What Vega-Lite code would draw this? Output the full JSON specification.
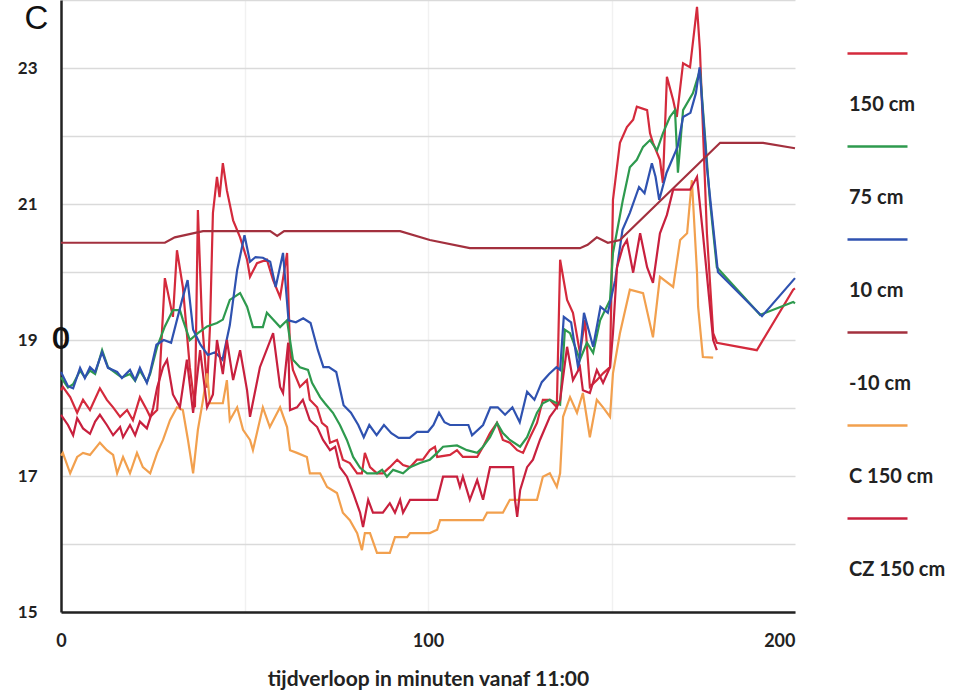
{
"$schema": "https://vega.github.io/schema/vega-lite/v6.json",
"width": 734, "height": 612,
"autosize": {"type": "none"},
"padding": {"left": 61, "top": 0, "right": 173, "bottom": 80},
"background": "white",
"config": {"view": {"stroke": null}},
"datasets": {
"lines": [
{"s":"150 cm","t":0,"T":18.26},{"s":"150 cm","t":0.5,"T":18.31},{"s":"150 cm","t":2.5,"T":18.16},{"s":"150 cm","t":4.4,"T":17.93},{"s":"150 cm","t":6.0,"T":18.12},{"s":"150 cm","t":7.9,"T":17.97},{"s":"150 cm","t":10.6,"T":18.29},{"s":"150 cm","t":12.5,"T":18.12},{"s":"150 cm","t":14.2,"T":18.01},{"s":"150 cm","t":16.1,"T":17.87},{"s":"150 cm","t":18.0,"T":17.97},{"s":"150 cm","t":19.6,"T":17.82},{"s":"150 cm","t":21.5,"T":18.16},{"s":"150 cm","t":23.4,"T":17.97},{"s":"150 cm","t":24.3,"T":17.87},{"s":"150 cm","t":26.2,"T":17.97},{"s":"150 cm","t":27.0,"T":18.6},{"s":"150 cm","t":28.3,"T":19.91},{"s":"150 cm","t":30.5,"T":19.34},{"s":"150 cm","t":31.6,"T":20.32},{"s":"150 cm","t":33.2,"T":19.78},{"s":"150 cm","t":35.1,"T":18.6},{"s":"150 cm","t":36.5,"T":18.01},{"s":"150 cm","t":37.3,"T":20.91},{"s":"150 cm","t":38.4,"T":19.3},{"s":"150 cm","t":39.8,"T":18.3},{"s":"150 cm","t":40.6,"T":19.2},{"s":"150 cm","t":41.4,"T":20.87},{"s":"150 cm","t":42.5,"T":21.4},{"s":"150 cm","t":43.2,"T":21.1},{"s":"150 cm","t":44.1,"T":21.6},{"s":"150 cm","t":45.2,"T":21.2},{"s":"150 cm","t":46.9,"T":20.76},{"s":"150 cm","t":48.8,"T":20.51},{"s":"150 cm","t":50.7,"T":20.18},{"s":"150 cm","t":51.5,"T":19.93},{"s":"150 cm","t":53.4,"T":20.13},{"s":"150 cm","t":56.1,"T":20.18},{"s":"150 cm","t":57.8,"T":19.88},{"s":"150 cm","t":59.7,"T":19.63},{"s":"150 cm","t":61.6,"T":20.28},{"s":"150 cm","t":62.4,"T":18.85},{"s":"150 cm","t":63.2,"T":18.56},{"s":"150 cm","t":65.1,"T":18.31},{"s":"150 cm","t":67.0,"T":18.41},{"s":"150 cm","t":67.8,"T":18.12},{"s":"150 cm","t":69.8,"T":18.01},{"s":"150 cm","t":71.1,"T":17.78},{"s":"150 cm","t":72.5,"T":17.72},{"s":"150 cm","t":73.3,"T":17.49},{"s":"150 cm","t":75.2,"T":17.53},{"s":"150 cm","t":76.8,"T":17.24},{"s":"150 cm","t":78.7,"T":17.19},{"s":"150 cm","t":80.7,"T":17.04},{"s":"150 cm","t":82.0,"T":17.04},{"s":"150 cm","t":82.8,"T":17.34},{"s":"150 cm","t":84.2,"T":17.13},{"s":"150 cm","t":86.1,"T":17.04},{"s":"150 cm","t":87.7,"T":17.04},{"s":"150 cm","t":89.6,"T":17.13},{"s":"150 cm","t":91.6,"T":17.24},{"s":"150 cm","t":93.2,"T":17.16},{"s":"150 cm","t":95.1,"T":17.13},{"s":"150 cm","t":97.0,"T":17.24},{"s":"150 cm","t":98.6,"T":17.24},{"s":"150 cm","t":100.5,"T":17.38},{"s":"150 cm","t":101.9,"T":17.43},{"s":"150 cm","t":102.5,"T":17.28},{"s":"150 cm","t":106.0,"T":17.31},{"s":"150 cm","t":107.9,"T":17.38},{"s":"150 cm","t":109.5,"T":17.28},{"s":"150 cm","t":113.4,"T":17.28},{"s":"150 cm","t":115.0,"T":17.43},{"s":"150 cm","t":116.9,"T":17.63},{"s":"150 cm","t":118.8,"T":17.78},{"s":"150 cm","t":120.4,"T":17.53},{"s":"150 cm","t":122.3,"T":17.49},{"s":"150 cm","t":124.3,"T":17.38},{"s":"150 cm","t":125.9,"T":17.34},{"s":"150 cm","t":127.8,"T":17.57},{"s":"150 cm","t":129.7,"T":17.78},{"s":"150 cm","t":131.3,"T":18.12},{"s":"150 cm","t":133.2,"T":18.12},{"s":"150 cm","t":135.1,"T":18.01},{"s":"150 cm","t":136.0,"T":20.18},{"s":"150 cm","t":137.9,"T":19.59},{"s":"150 cm","t":139.5,"T":19.40},{"s":"150 cm","t":141.4,"T":18.81},{"s":"150 cm","t":142.8,"T":19.29},{"s":"150 cm","t":144.1,"T":18.31},{"s":"150 cm","t":146.0,"T":18.41},{"s":"150 cm","t":147.7,"T":18.51},{"s":"150 cm","t":149.6,"T":18.60},{"s":"150 cm","t":150.4,"T":21.06},{"s":"150 cm","t":152.3,"T":21.90},{"s":"150 cm","t":154.2,"T":22.13},{"s":"150 cm","t":155.9,"T":22.24},{"s":"150 cm","t":156.9,"T":22.43},{"s":"150 cm","t":159.7,"T":22.38},{"s":"150 cm","t":160.5,"T":22.04},{"s":"150 cm","t":161.3,"T":21.90},{"s":"150 cm","t":163.2,"T":21.65},{"s":"150 cm","t":164.0,"T":21.31},{"s":"150 cm","t":165.1,"T":22.87},{"s":"150 cm","t":166.8,"T":22.53},{"s":"150 cm","t":167.8,"T":22.28},{"s":"150 cm","t":169.5,"T":23.07},{"s":"150 cm","t":171.4,"T":23.01},{"s":"150 cm","t":173.3,"T":23.90},{"s":"150 cm","t":174.1,"T":23.26},{"s":"150 cm","t":176.0,"T":20.57},{"s":"150 cm","t":177.7,"T":19.10},{"s":"150 cm","t":178.7,"T":18.96},{"s":"150 cm","t":189.6,"T":18.85},{"s":"150 cm","t":199.5,"T":19.74},{"s":"150 cm","t":200,"T":19.76},

{"s":"75 cm","t":0,"T":18.45},{"s":"75 cm","t":1.9,"T":18.3},{"s":"75 cm","t":3.3,"T":18.35},{"s":"75 cm","t":5.2,"T":18.55},{"s":"75 cm","t":6.5,"T":18.45},{"s":"75 cm","t":7.9,"T":18.55},{"s":"75 cm","t":9.3,"T":18.5},{"s":"75 cm","t":11.2,"T":18.85},{"s":"75 cm","t":12.8,"T":18.6},{"s":"75 cm","t":15.3,"T":18.5},{"s":"75 cm","t":16.6,"T":18.45},{"s":"75 cm","t":18.8,"T":18.5},{"s":"75 cm","t":20.2,"T":18.4},{"s":"75 cm","t":21.5,"T":18.55},{"s":"75 cm","t":23.4,"T":18.38},{"s":"75 cm","t":24.3,"T":18.5},{"s":"75 cm","t":26.2,"T":18.9},{"s":"75 cm","t":28.3,"T":19.2},{"s":"75 cm","t":30.5,"T":19.44},{"s":"75 cm","t":32.4,"T":19.44},{"s":"75 cm","t":33.2,"T":19.3},{"s":"75 cm","t":35.1,"T":19.0},{"s":"75 cm","t":37.3,"T":19.1},{"s":"75 cm","t":39.8,"T":19.2},{"s":"75 cm","t":42.5,"T":19.25},{"s":"75 cm","t":44.1,"T":19.3},{"s":"75 cm","t":46.0,"T":19.59},{"s":"75 cm","t":48.8,"T":19.69},{"s":"75 cm","t":50.7,"T":19.49},{"s":"75 cm","t":52.3,"T":19.19},{"s":"75 cm","t":55.0,"T":19.19},{"s":"75 cm","t":56.1,"T":19.40},{"s":"75 cm","t":57.8,"T":19.3},{"s":"75 cm","t":59.7,"T":19.19},{"s":"75 cm","t":61.6,"T":19.29},{"s":"75 cm","t":63.2,"T":18.71},{"s":"75 cm","t":65.1,"T":18.6},{"s":"75 cm","t":67.3,"T":18.56},{"s":"75 cm","t":68.4,"T":18.37},{"s":"75 cm","t":70.6,"T":18.16},{"s":"75 cm","t":71.9,"T":18.07},{"s":"75 cm","t":74.1,"T":17.93},{"s":"75 cm","t":76.0,"T":17.75},{"s":"75 cm","t":77.9,"T":17.53},{"s":"75 cm","t":79.6,"T":17.28},{"s":"75 cm","t":81.5,"T":17.12},{"s":"75 cm","t":83.4,"T":17.04},{"s":"75 cm","t":86.1,"T":17.04},{"s":"75 cm","t":87.5,"T":17.09},{"s":"75 cm","t":88.8,"T":16.99},{"s":"75 cm","t":90.5,"T":17.09},{"s":"75 cm","t":93.2,"T":17.04},{"s":"75 cm","t":95.1,"T":17.13},{"s":"75 cm","t":97.8,"T":17.19},{"s":"75 cm","t":100.5,"T":17.24},{"s":"75 cm","t":102.5,"T":17.34},{"s":"75 cm","t":104.1,"T":17.43},{"s":"75 cm","t":107.9,"T":17.45},{"s":"75 cm","t":110.6,"T":17.38},{"s":"75 cm","t":113.4,"T":17.34},{"s":"75 cm","t":115.0,"T":17.43},{"s":"75 cm","t":116.9,"T":17.57},{"s":"75 cm","t":118.8,"T":17.78},{"s":"75 cm","t":120.4,"T":17.63},{"s":"75 cm","t":122.3,"T":17.53},{"s":"75 cm","t":125.1,"T":17.43},{"s":"75 cm","t":127.0,"T":17.57},{"s":"75 cm","t":129.7,"T":17.93},{"s":"75 cm","t":131.3,"T":18.07},{"s":"75 cm","t":133.2,"T":18.12},{"s":"75 cm","t":135.1,"T":18.07},{"s":"75 cm","t":136.0,"T":18.05},{"s":"75 cm","t":137.3,"T":19.15},{"s":"75 cm","t":138.7,"T":19.10},{"s":"75 cm","t":141.4,"T":18.71},{"s":"75 cm","t":143.3,"T":18.96},{"s":"75 cm","t":145.0,"T":18.81},{"s":"75 cm","t":146.9,"T":19.29},{"s":"75 cm","t":149.6,"T":19.59},{"s":"75 cm","t":150.4,"T":20.28},{"s":"75 cm","t":153.1,"T":21.06},{"s":"75 cm","t":155.0,"T":21.54},{"s":"75 cm","t":156.9,"T":21.65},{"s":"75 cm","t":158.6,"T":21.84},{"s":"75 cm","t":160.5,"T":21.94},{"s":"75 cm","t":162.4,"T":21.79},{"s":"75 cm","t":164.0,"T":22.04},{"s":"75 cm","t":165.9,"T":22.28},{"s":"75 cm","t":167.3,"T":22.38},{"s":"75 cm","t":168.1,"T":21.46},{"s":"75 cm","t":169.5,"T":22.38},{"s":"75 cm","t":172.2,"T":22.63},{"s":"75 cm","t":174.1,"T":22.97},{"s":"75 cm","t":176.8,"T":21.06},{"s":"75 cm","t":178.7,"T":20.07},{"s":"75 cm","t":190.5,"T":19.37},{"s":"75 cm","t":199.5,"T":19.56},{"s":"75 cm","t":200,"T":19.54},

{"s":"10 cm","t":0,"T":18.53},{"s":"10 cm","t":1.9,"T":18.32},{"s":"10 cm","t":3.3,"T":18.29},{"s":"10 cm","t":5.2,"T":18.59},{"s":"10 cm","t":6.5,"T":18.44},{"s":"10 cm","t":7.9,"T":18.60},{"s":"10 cm","t":9.3,"T":18.53},{"s":"10 cm","t":11.2,"T":18.82},{"s":"10 cm","t":12.8,"T":18.59},{"s":"10 cm","t":15.3,"T":18.53},{"s":"10 cm","t":16.6,"T":18.44},{"s":"10 cm","t":18.8,"T":18.56},{"s":"10 cm","t":20.2,"T":18.41},{"s":"10 cm","t":21.5,"T":18.59},{"s":"10 cm","t":23.4,"T":18.37},{"s":"10 cm","t":24.3,"T":18.53},{"s":"10 cm","t":26.0,"T":18.93},{"s":"10 cm","t":28.0,"T":19.0},{"s":"10 cm","t":30.0,"T":18.96},{"s":"10 cm","t":33.0,"T":19.59},{"s":"10 cm","t":34.5,"T":19.88},{"s":"10 cm","t":36.0,"T":19.15},{"s":"10 cm","t":38.0,"T":18.93},{"s":"10 cm","t":40.0,"T":18.78},{"s":"10 cm","t":42.0,"T":18.82},{"s":"10 cm","t":44.0,"T":18.71},{"s":"10 cm","t":46.0,"T":19.22},{"s":"10 cm","t":48.0,"T":20.03},{"s":"10 cm","t":50.0,"T":20.54},{"s":"10 cm","t":51.5,"T":20.15},{"s":"10 cm","t":53.0,"T":20.22},{"s":"10 cm","t":55.0,"T":20.21},{"s":"10 cm","t":57.0,"T":20.15},{"s":"10 cm","t":58.5,"T":19.78},{"s":"10 cm","t":60.5,"T":20.28},{"s":"10 cm","t":62.0,"T":19.29},{"s":"10 cm","t":64.0,"T":19.26},{"s":"10 cm","t":66.0,"T":19.32},{"s":"10 cm","t":68.0,"T":19.25},{"s":"10 cm","t":70.0,"T":18.85},{"s":"10 cm","t":71.5,"T":18.60},{"s":"10 cm","t":73.0,"T":18.60},{"s":"10 cm","t":75.0,"T":18.53},{"s":"10 cm","t":77.0,"T":18.04},{"s":"10 cm","t":79.0,"T":17.93},{"s":"10 cm","t":81.0,"T":17.75},{"s":"10 cm","t":82.5,"T":17.57},{"s":"10 cm","t":84.0,"T":17.75},{"s":"10 cm","t":86.0,"T":17.60},{"s":"10 cm","t":88.0,"T":17.75},{"s":"10 cm","t":90.0,"T":17.63},{"s":"10 cm","t":92.0,"T":17.56},{"s":"10 cm","t":95.0,"T":17.56},{"s":"10 cm","t":97.0,"T":17.65},{"s":"10 cm","t":100.0,"T":17.65},{"s":"10 cm","t":101.5,"T":17.75},{"s":"10 cm","t":103.0,"T":17.93},{"s":"10 cm","t":104.5,"T":17.79},{"s":"10 cm","t":106.0,"T":17.75},{"s":"10 cm","t":111.0,"T":17.75},{"s":"10 cm","t":112.0,"T":17.60},{"s":"10 cm","t":115.0,"T":17.75},{"s":"10 cm","t":117.0,"T":18.01},{"s":"10 cm","t":119.0,"T":18.01},{"s":"10 cm","t":121.0,"T":17.90},{"s":"10 cm","t":123.0,"T":18.01},{"s":"10 cm","t":125.0,"T":17.79},{"s":"10 cm","t":127.0,"T":18.24},{"s":"10 cm","t":129.0,"T":18.12},{"s":"10 cm","t":131.0,"T":18.38},{"s":"10 cm","t":133.0,"T":18.50},{"s":"10 cm","t":135.0,"T":18.60},{"s":"10 cm","t":136.0,"T":18.56},{"s":"10 cm","t":137.0,"T":19.34},{"s":"10 cm","t":139.0,"T":19.26},{"s":"10 cm","t":141.0,"T":18.56},{"s":"10 cm","t":142.5,"T":19.40},{"s":"10 cm","t":145.0,"T":18.90},{"s":"10 cm","t":147.0,"T":19.49},{"s":"10 cm","t":149.0,"T":19.40},{"s":"10 cm","t":151.0,"T":19.88},{"s":"10 cm","t":153.0,"T":20.62},{"s":"10 cm","t":155.0,"T":20.87},{"s":"10 cm","t":157.5,"T":21.25},{"s":"10 cm","t":159.0,"T":21.16},{"s":"10 cm","t":161.0,"T":21.60},{"s":"10 cm","t":162.0,"T":21.40},{"s":"10 cm","t":163.0,"T":21.06},{"s":"10 cm","t":165.0,"T":21.46},{"s":"10 cm","t":168.0,"T":21.84},{"s":"10 cm","t":169.5,"T":22.28},{"s":"10 cm","t":171.5,"T":22.34},{"s":"10 cm","t":173.0,"T":22.63},{"s":"10 cm","t":174.0,"T":23.01},{"s":"10 cm","t":176.0,"T":21.54},{"s":"10 cm","t":179.0,"T":20.0},{"s":"10 cm","t":191.0,"T":19.35},{"s":"10 cm","t":200,"T":19.91},

{"s":"-10 cm","t":0,"T":20.43},{"s":"-10 cm","t":28.3,"T":20.43},{"s":"-10 cm","t":31.0,"T":20.51},{"s":"-10 cm","t":38.7,"T":20.60},{"s":"-10 cm","t":57.0,"T":20.60},{"s":"-10 cm","t":58.9,"T":20.53},{"s":"-10 cm","t":60.8,"T":20.60},{"s":"-10 cm","t":92.4,"T":20.60},{"s":"-10 cm","t":100.5,"T":20.47},{"s":"-10 cm","t":111.4,"T":20.35},{"s":"-10 cm","t":141.4,"T":20.35},{"s":"-10 cm","t":143.5,"T":20.40},{"s":"-10 cm","t":146.0,"T":20.51},{"s":"-10 cm","t":149.0,"T":20.43},{"s":"-10 cm","t":152.3,"T":20.47},{"s":"-10 cm","t":179.6,"T":21.90},{"s":"-10 cm","t":191.3,"T":21.90},{"s":"-10 cm","t":200,"T":21.82},

{"s":"C 150 cm","t":0,"T":17.3},{"s":"C 150 cm","t":0.5,"T":17.34},{"s":"C 150 cm","t":2.5,"T":17.04},{"s":"C 150 cm","t":4.4,"T":17.28},{"s":"C 150 cm","t":6.0,"T":17.34},{"s":"C 150 cm","t":7.9,"T":17.31},{"s":"C 150 cm","t":10.6,"T":17.49},{"s":"C 150 cm","t":12.5,"T":17.38},{"s":"C 150 cm","t":14.2,"T":17.31},{"s":"C 150 cm","t":15.3,"T":17.04},{"s":"C 150 cm","t":16.9,"T":17.28},{"s":"C 150 cm","t":18.8,"T":17.04},{"s":"C 150 cm","t":20.7,"T":17.34},{"s":"C 150 cm","t":22.3,"T":17.13},{"s":"C 150 cm","t":24.3,"T":17.04},{"s":"C 150 cm","t":26.2,"T":17.34},{"s":"C 150 cm","t":27.8,"T":17.53},{"s":"C 150 cm","t":29.7,"T":17.82},{"s":"C 150 cm","t":31.6,"T":18.01},{"s":"C 150 cm","t":33.2,"T":17.97},{"s":"C 150 cm","t":34.6,"T":17.53},{"s":"C 150 cm","t":36.0,"T":17.04},{"s":"C 150 cm","t":37.3,"T":17.68},{"s":"C 150 cm","t":38.7,"T":18.12},{"s":"C 150 cm","t":39.8,"T":18.51},{"s":"C 150 cm","t":40.6,"T":18.07},{"s":"C 150 cm","t":44.1,"T":18.07},{"s":"C 150 cm","t":45.2,"T":18.41},{"s":"C 150 cm","t":46.0,"T":17.82},{"s":"C 150 cm","t":48.0,"T":18.01},{"s":"C 150 cm","t":49.6,"T":17.68},{"s":"C 150 cm","t":51.5,"T":17.53},{"s":"C 150 cm","t":52.3,"T":17.38},{"s":"C 150 cm","t":55.0,"T":18.01},{"s":"C 150 cm","t":56.9,"T":17.72},{"s":"C 150 cm","t":59.7,"T":18.01},{"s":"C 150 cm","t":61.6,"T":17.72},{"s":"C 150 cm","t":62.4,"T":17.38},{"s":"C 150 cm","t":64.3,"T":17.34},{"s":"C 150 cm","t":67.0,"T":17.28},{"s":"C 150 cm","t":67.8,"T":17.04},{"s":"C 150 cm","t":70.6,"T":17.04},{"s":"C 150 cm","t":72.5,"T":16.84},{"s":"C 150 cm","t":75.2,"T":16.75},{"s":"C 150 cm","t":76.8,"T":16.46},{"s":"C 150 cm","t":78.7,"T":16.35},{"s":"C 150 cm","t":80.7,"T":16.16},{"s":"C 150 cm","t":82.0,"T":15.91},{"s":"C 150 cm","t":82.8,"T":16.16},{"s":"C 150 cm","t":84.2,"T":16.16},{"s":"C 150 cm","t":86.1,"T":15.87},{"s":"C 150 cm","t":89.6,"T":15.87},{"s":"C 150 cm","t":91.0,"T":16.10},{"s":"C 150 cm","t":94.3,"T":16.10},{"s":"C 150 cm","t":95.1,"T":16.16},{"s":"C 150 cm","t":100.5,"T":16.16},{"s":"C 150 cm","t":102.5,"T":16.21},{"s":"C 150 cm","t":103.3,"T":16.35},{"s":"C 150 cm","t":115.0,"T":16.35},{"s":"C 150 cm","t":116.1,"T":16.46},{"s":"C 150 cm","t":120.4,"T":16.46},{"s":"C 150 cm","t":122.3,"T":16.65},{"s":"C 150 cm","t":129.7,"T":16.65},{"s":"C 150 cm","t":131.3,"T":16.99},{"s":"C 150 cm","t":133.2,"T":17.04},{"s":"C 150 cm","t":135.1,"T":16.84},{"s":"C 150 cm","t":136.0,"T":17.04},{"s":"C 150 cm","t":136.8,"T":17.87},{"s":"C 150 cm","t":138.7,"T":18.16},{"s":"C 150 cm","t":140.6,"T":17.93},{"s":"C 150 cm","t":142.2,"T":18.22},{"s":"C 150 cm","t":144.1,"T":17.57},{"s":"C 150 cm","t":146.0,"T":18.12},{"s":"C 150 cm","t":147.7,"T":18.01},{"s":"C 150 cm","t":149.6,"T":17.87},{"s":"C 150 cm","t":150.4,"T":18.51},{"s":"C 150 cm","t":152.3,"T":19.10},{"s":"C 150 cm","t":155.0,"T":19.74},{"s":"C 150 cm","t":158.6,"T":19.69},{"s":"C 150 cm","t":161.3,"T":19.04},{"s":"C 150 cm","t":163.2,"T":19.93},{"s":"C 150 cm","t":166.8,"T":19.78},{"s":"C 150 cm","t":168.7,"T":20.47},{"s":"C 150 cm","t":170.6,"T":20.57},{"s":"C 150 cm","t":171.9,"T":21.35},{"s":"C 150 cm","t":173.3,"T":19.99},{"s":"C 150 cm","t":173.6,"T":19.49},{"s":"C 150 cm","t":174.9,"T":18.75},{"s":"C 150 cm","t":177.7,"T":18.74},

{"s":"CZ 150 cm","t":0,"T":17.9},{"s":"CZ 150 cm","t":1.9,"T":17.75},{"s":"CZ 150 cm","t":3.3,"T":17.6},{"s":"CZ 150 cm","t":4.4,"T":17.85},{"s":"CZ 150 cm","t":6.0,"T":17.7},{"s":"CZ 150 cm","t":7.9,"T":17.62},{"s":"CZ 150 cm","t":9.3,"T":17.8},{"s":"CZ 150 cm","t":10.6,"T":17.9},{"s":"CZ 150 cm","t":12.5,"T":17.75},{"s":"CZ 150 cm","t":14.2,"T":17.6},{"s":"CZ 150 cm","t":16.1,"T":17.72},{"s":"CZ 150 cm","t":16.9,"T":17.57},{"s":"CZ 150 cm","t":18.8,"T":17.75},{"s":"CZ 150 cm","t":20.2,"T":17.6},{"s":"CZ 150 cm","t":21.5,"T":17.8},{"s":"CZ 150 cm","t":23.4,"T":17.7},{"s":"CZ 150 cm","t":24.3,"T":17.85},{"s":"CZ 150 cm","t":25.1,"T":18.0},{"s":"CZ 150 cm","t":26.2,"T":18.3},{"s":"CZ 150 cm","t":27.8,"T":18.6},{"s":"CZ 150 cm","t":28.9,"T":18.71},{"s":"CZ 150 cm","t":30.5,"T":18.2},{"s":"CZ 150 cm","t":32.4,"T":18.01},{"s":"CZ 150 cm","t":34.3,"T":18.71},{"s":"CZ 150 cm","t":36.0,"T":17.93},{"s":"CZ 150 cm","t":37.9,"T":18.85},{"s":"CZ 150 cm","t":39.8,"T":18.01},{"s":"CZ 150 cm","t":41.4,"T":18.2},{"s":"CZ 150 cm","t":42.5,"T":19.0},{"s":"CZ 150 cm","t":44.1,"T":18.5},{"s":"CZ 150 cm","t":45.2,"T":19.0},{"s":"CZ 150 cm","t":46.9,"T":18.41},{"s":"CZ 150 cm","t":48.8,"T":18.85},{"s":"CZ 150 cm","t":50.7,"T":18.26},{"s":"CZ 150 cm","t":51.5,"T":17.87},{"s":"CZ 150 cm","t":54.2,"T":18.6},{"s":"CZ 150 cm","t":57.8,"T":19.1},{"s":"CZ 150 cm","t":59.7,"T":18.31},{"s":"CZ 150 cm","t":60.5,"T":18.22},{"s":"CZ 150 cm","t":61.9,"T":18.96},{"s":"CZ 150 cm","t":62.4,"T":17.97},{"s":"CZ 150 cm","t":64.3,"T":18.01},{"s":"CZ 150 cm","t":65.9,"T":18.12},{"s":"CZ 150 cm","t":67.8,"T":17.82},{"s":"CZ 150 cm","t":69.8,"T":17.72},{"s":"CZ 150 cm","t":71.4,"T":17.53},{"s":"CZ 150 cm","t":73.3,"T":17.38},{"s":"CZ 150 cm","t":74.7,"T":17.43},{"s":"CZ 150 cm","t":76.0,"T":17.13},{"s":"CZ 150 cm","t":77.9,"T":16.99},{"s":"CZ 150 cm","t":79.6,"T":16.75},{"s":"CZ 150 cm","t":81.5,"T":16.46},{"s":"CZ 150 cm","t":82.3,"T":16.25},{"s":"CZ 150 cm","t":83.7,"T":16.65},{"s":"CZ 150 cm","t":85.0,"T":16.46},{"s":"CZ 150 cm","t":87.7,"T":16.46},{"s":"CZ 150 cm","t":89.6,"T":16.60},{"s":"CZ 150 cm","t":91.0,"T":16.46},{"s":"CZ 150 cm","t":92.4,"T":16.65},{"s":"CZ 150 cm","t":93.2,"T":16.46},{"s":"CZ 150 cm","t":95.1,"T":16.65},{"s":"CZ 150 cm","t":102.5,"T":16.65},{"s":"CZ 150 cm","t":104.1,"T":16.99},{"s":"CZ 150 cm","t":107.9,"T":16.99},{"s":"CZ 150 cm","t":108.7,"T":16.84},{"s":"CZ 150 cm","t":109.5,"T":16.99},{"s":"CZ 150 cm","t":111.4,"T":16.65},{"s":"CZ 150 cm","t":113.4,"T":16.94},{"s":"CZ 150 cm","t":115.0,"T":16.65},{"s":"CZ 150 cm","t":116.9,"T":17.13},{"s":"CZ 150 cm","t":123.2,"T":17.13},{"s":"CZ 150 cm","t":123.7,"T":16.65},{"s":"CZ 150 cm","t":124.3,"T":16.40},{"s":"CZ 150 cm","t":125.1,"T":16.79},{"s":"CZ 150 cm","t":127.0,"T":17.13},{"s":"CZ 150 cm","t":128.6,"T":17.24},{"s":"CZ 150 cm","t":130.5,"T":17.53},{"s":"CZ 150 cm","t":133.2,"T":17.87},{"s":"CZ 150 cm","t":135.1,"T":18.01},{"s":"CZ 150 cm","t":136.0,"T":18.12},{"s":"CZ 150 cm","t":137.9,"T":18.90},{"s":"CZ 150 cm","t":139.5,"T":18.41},{"s":"CZ 150 cm","t":141.4,"T":18.60},{"s":"CZ 150 cm","t":142.2,"T":18.26},{"s":"CZ 150 cm","t":144.1,"T":18.22},{"s":"CZ 150 cm","t":146.0,"T":18.56},{"s":"CZ 150 cm","t":147.7,"T":18.37},{"s":"CZ 150 cm","t":149.6,"T":18.6},{"s":"CZ 150 cm","t":150.4,"T":19.10},{"s":"CZ 150 cm","t":151.5,"T":20.07},{"s":"CZ 150 cm","t":153.1,"T":20.37},{"s":"CZ 150 cm","t":154.2,"T":20.47},{"s":"CZ 150 cm","t":155.9,"T":19.99},{"s":"CZ 150 cm","t":157.8,"T":20.57},{"s":"CZ 150 cm","t":159.7,"T":20.07},{"s":"CZ 150 cm","t":161.3,"T":19.84},{"s":"CZ 150 cm","t":163.2,"T":20.57},{"s":"CZ 150 cm","t":165.1,"T":20.84},{"s":"CZ 150 cm","t":166.8,"T":21.21},{"s":"CZ 150 cm","t":171.4,"T":21.21},{"s":"CZ 150 cm","t":173.3,"T":21.40},{"s":"CZ 150 cm","t":174.9,"T":20.57},{"s":"CZ 150 cm","t":177.7,"T":19.0},{"s":"CZ 150 cm","t":178.7,"T":18.85}
],
"marks": [{"t": 0, "T": 19, "lab": "0"}]
},
"layer": [
{
"data": {"name": "lines"},
"mark": {"type": "line", "strokeWidth": 2.2, "interpolate": "linear"},
"encoding": {
"x": {"field": "t", "type": "quantitative", "scale": {"domain": [0, 200], "nice": false},
  "axis": {"values": [0, 50, 100, 150, 200], "labelExpr": "datum.value % 100 == 0 ? datum.label : ''", "grid": true,
    "gridColor": {"condition": {"test": "datum.value == 200 || datum.value == 0", "value": "rgba(0,0,0,0)"}, "value": "#f1f1f1"},
    "gridWidth": 1.5, "ticks": false, "domainColor": "#222", "domainWidth": 2.5,
    "labelFont": "Lato", "labelFontWeight": "bold", "labelFontSize": 18, "labelColor": "#222", "labelPadding": 20,
    "labelAlign": {"condition": {"test": "datum.value == 200", "value": "right"}, "value": "center"},
    "title": "tijdverloop in minuten vanaf 11:00", "titleFont": "Lato", "titleFontSize": 21, "titleFontWeight": "bold", "titleColor": "#222", "titlePadding": 18}},
"y": {"field": "T", "type": "quantitative", "scale": {"domain": [15, 24], "nice": false, "zero": false},
  "axis": {"values": [15, 16, 17, 18, 19, 20, 21, 22, 23, 24], "labelExpr": "datum.value % 2 == 1 ? format(datum.value, 'd') : ''", "grid": true,
    "gridColor": "#dadada", "gridWidth": 1.5, "ticks": false, "domainColor": "#222", "domainWidth": 2.5,
    "labelFont": "Lato", "labelFontWeight": "bold", "labelFontSize": 17, "labelColor": "#222", "labelPadding": 24,
    "title": "C", "titleAngle": 0, "titleX": -37, "titleY": 28, "titleAlign": "left", "titleBaseline": "alphabetic",
    "titleFont": "Liberation Sans", "titleFontSize": 33, "titleFontWeight": "normal", "titleColor": "#111"}},
"color": {"field": "s", "type": "nominal",
  "scale": {"domain": ["150 cm", "75 cm", "10 cm", "-10 cm", "C 150 cm", "CZ 150 cm"], "range": ["#d42a3c", "#2e9a4e", "#2f52b0", "#a3303e", "#f2a04e", "#c8203e"]},
  "legend": {"orient": "none", "legendX": 785, "legendY": 22, "title": null, "symbolType": "stroke", "symbolSize": 3600, "symbolStrokeWidth": 2.5,
    "rowPadding": 0, "padding": 0, "labelFont": "Lato", "labelFontWeight": "bold", "labelFontSize": 20, "labelColor": "#222", "labelOffset": -60, "labelLimit": 300,
    "encode": {"labels": {"update": {"dy": {"value": 51}}}}}}
}
},
{
"data": {"name": "marks"},
"mark": {"type": "text", "font": "Lato", "fontWeight": "bold", "fontSize": 30, "color": "#111", "align": "center", "baseline": "middle"},
"encoding": {
"x": {"field": "t", "type": "quantitative"},
"y": {"field": "T", "type": "quantitative"},
"text": {"field": "lab"}
}
}
]
}
